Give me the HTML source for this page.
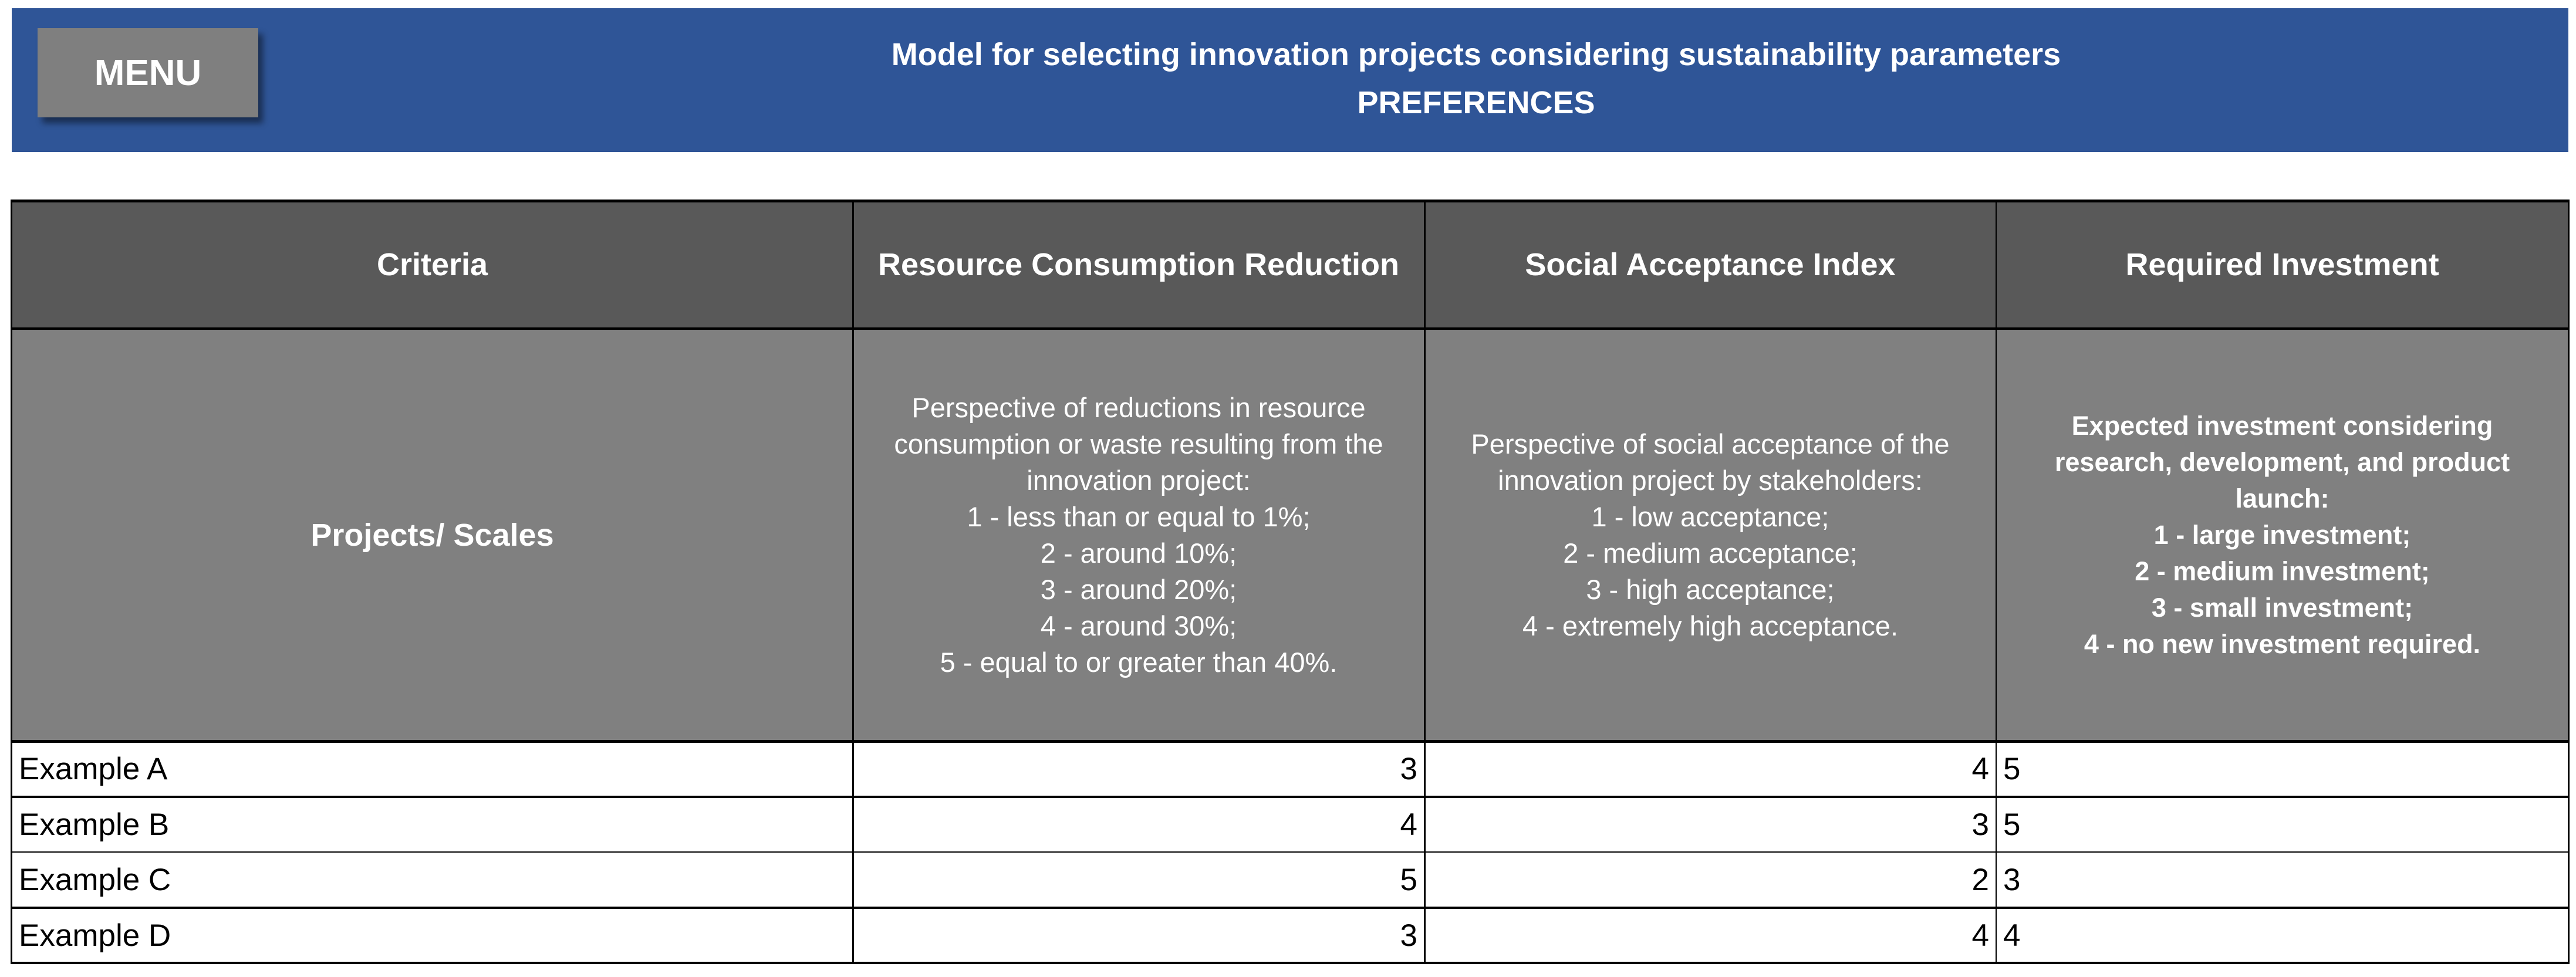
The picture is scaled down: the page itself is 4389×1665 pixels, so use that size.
<!DOCTYPE html>
<html><head><meta charset="utf-8"><style>
*{margin:0;padding:0;box-sizing:border-box}
body{width:4389px;height:1665px;background:#fff;position:relative;overflow:hidden;font-family:"Liberation Sans",sans-serif}
.abs{position:absolute}
#band{left:20px;top:14px;width:4356px;height:245px;background:#2f5597}
#menu{left:64px;top:48px;width:376px;height:152px;background:#7f7f7f;box-shadow:8px 10px 10px rgba(0,0,0,0.45);color:#fff;font-weight:bold;font-size:62px;display:flex;align-items:center;justify-content:center}
#title{left:600px;top:52px;width:3830px;text-align:center;color:#fff;font-weight:bold;font-size:54px;line-height:82px}
.cell{position:absolute;display:flex;align-items:center;justify-content:center;text-align:center;color:#fff}
.h1{background:#595959;font-weight:bold;font-size:54px}
.h2{background:#808080;font-size:47px;line-height:62px}
.b{font-weight:bold}
.d{background:#fff;color:#000;font-size:53px;padding:0 12px}
.hl{position:absolute;background:#000}
.vl{position:absolute;background:#000;width:3px}
</style></head><body>
<div id="band" class="abs"></div>
<div id="menu" class="abs">MENU</div>
<div id="title" class="abs">Model for selecting innovation projects considering sustainability parameters<br>PREFERENCES</div>

<div class="cell h1" style="left:20px;top:342px;width:1433px;height:218px">Criteria</div>
<div class="cell h1" style="left:1453px;top:342px;width:974px;height:218px">Resource Consumption Reduction</div>
<div class="cell h1" style="left:2427px;top:342px;width:974px;height:218px">Social Acceptance Index</div>
<div class="cell h1" style="left:3401px;top:342px;width:975px;height:218px">Required Investment</div>

<div class="cell h2 b" style="left:20px;top:560px;width:1433px;height:703px;font-size:54px">Projects/ Scales</div>
<div class="cell h2" style="left:1453px;top:560px;width:974px;height:703px"><div>Perspective of reductions in resource<br>consumption or waste resulting from the<br>innovation project:<br>1 - less than or equal to 1%;<br>2 - around 10%;<br>3 - around 20%;<br>4 - around 30%;<br>5 - equal to or greater than 40%.</div></div>
<div class="cell h2" style="left:2427px;top:560px;width:974px;height:703px"><div>Perspective of social acceptance of the<br>innovation project by stakeholders:<br>1 - low acceptance;<br>2 - medium acceptance;<br>3 - high acceptance;<br>4 - extremely high acceptance.</div></div>
<div class="cell h2 b" style="left:3401px;top:560px;width:975px;height:703px;font-size:45px"><div>Expected investment considering<br>research, development, and product<br>launch:<br>1 - large investment;<br>2 - medium investment;<br>3 - small investment;<br>4 - no new investment required.</div></div>

<div class="cell d" style="left:20px;top:1263px;width:1433px;height:95px;justify-content:flex-start">Example A</div>
<div class="cell d" style="left:1453px;top:1263px;width:974px;height:95px;justify-content:flex-end">3</div>
<div class="cell d" style="left:2427px;top:1263px;width:974px;height:95px;justify-content:flex-end">4</div>
<div class="cell d" style="left:3401px;top:1263px;width:975px;height:95px;justify-content:flex-start">5</div>

<div class="cell d" style="left:20px;top:1358px;width:1433px;height:94px;justify-content:flex-start">Example B</div>
<div class="cell d" style="left:1453px;top:1358px;width:974px;height:94px;justify-content:flex-end">4</div>
<div class="cell d" style="left:2427px;top:1358px;width:974px;height:94px;justify-content:flex-end">3</div>
<div class="cell d" style="left:3401px;top:1358px;width:975px;height:94px;justify-content:flex-start">5</div>

<div class="cell d" style="left:20px;top:1452px;width:1433px;height:95px;justify-content:flex-start">Example C</div>
<div class="cell d" style="left:1453px;top:1452px;width:974px;height:95px;justify-content:flex-end">5</div>
<div class="cell d" style="left:2427px;top:1452px;width:974px;height:95px;justify-content:flex-end">2</div>
<div class="cell d" style="left:3401px;top:1452px;width:975px;height:95px;justify-content:flex-start">3</div>

<div class="cell d" style="left:20px;top:1547px;width:1433px;height:94px;justify-content:flex-start">Example D</div>
<div class="cell d" style="left:1453px;top:1547px;width:974px;height:94px;justify-content:flex-end">3</div>
<div class="cell d" style="left:2427px;top:1547px;width:974px;height:94px;justify-content:flex-end">4</div>
<div class="cell d" style="left:3401px;top:1547px;width:975px;height:94px;justify-content:flex-start">4</div>

<div class="hl" style="left:18px;top:340px;width:4360px;height:5px"></div>
<div class="hl" style="left:18px;top:558px;width:4360px;height:4px"></div>
<div class="hl" style="left:18px;top:1261px;width:4360px;height:5px"></div>
<div class="hl" style="left:18px;top:1356px;width:4360px;height:4px"></div>
<div class="hl" style="left:18px;top:1451px;width:4360px;height:2px"></div>
<div class="hl" style="left:18px;top:1545px;width:4360px;height:4px"></div>
<div class="hl" style="left:18px;top:1639px;width:4360px;height:4px"></div>
<div class="vl" style="left:18px;top:340px;height:1303px"></div>
<div class="vl" style="left:1452px;top:340px;height:1303px"></div>
<div class="vl" style="left:2426px;top:340px;height:1303px"></div>
<div class="vl" style="left:3400px;top:340px;height:1303px;width:2px"></div>
<div class="vl" style="left:4375px;top:340px;height:1303px"></div>
</body></html>
